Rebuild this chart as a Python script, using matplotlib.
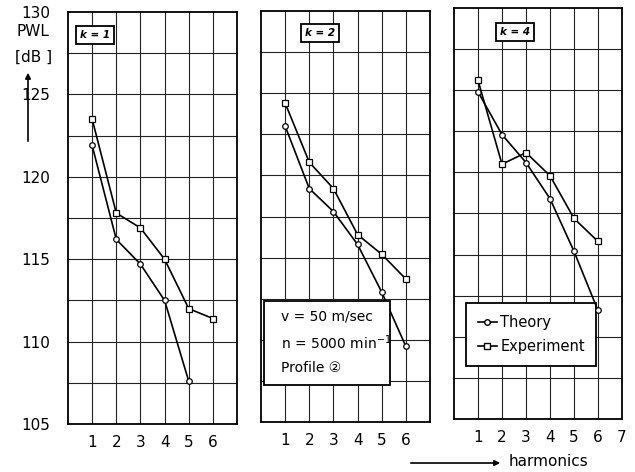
import matplotlib
matplotlib.use("Agg")
import matplotlib.pyplot as plt
from matplotlib.lines import Line2D
from matplotlib.patches import Rectangle, FancyArrowPatch

plt.rcParams['font.family'] = ['DejaVu Sans']

# PWL over harmonics for three k values
harm = [1, 2, 3, 4, 5, 6]

theory_k1 = [121.9, 116.2, 114.7, 112.5, 107.6]
exper_k1 = [123.5, 117.8, 116.9, 115.0, 112.0, 111.4]

theory_k2 = [123.0, 119.2, 117.8, 115.8, 112.9, 109.6]
exper_k2 = [124.4, 120.8, 119.2, 116.4, 115.2, 113.7]

theory_k4 = [124.9, 122.3, 120.6, 118.4, 115.2, 111.6]
exper_k4 = [125.6, 120.5, 121.2, 119.8, 117.2, 115.8]

panels = [
    ("k = 1", theory_k1, exper_k1, [1, 2, 3, 4, 5, 6]),
    ("k = 2", theory_k2, exper_k2, [1, 2, 3, 4, 5, 6]),
    ("k = 4", theory_k4, exper_k4, [1, 2, 3, 4, 5, 6, 7]),
]
info_lines = ["v = 50 m/sec", "n = 5000 min$^{-1}$", "Profile \u2461"]

W, H = 635, 472
fig = plt.figure(figsize=(W / 100, H / 100), dpi=100)

# panel boxes in pixels: left, right, top, bottom
boxes = [(68, 237, 12, 424), (261, 430, 11, 422), (454, 622, 8, 419)]
k_pos = [(95, 35), (320, 33), (515, 32)]

axes = []
for i, (lbl, th, ex, xt) in enumerate(panels):
    l, r, t, b = boxes[i]
    ax = fig.add_axes([l / W, 1 - b / H, (r - l) / W, (b - t) / H])
    ax.set_xlim(0, 7)
    ax.set_ylim(105, 130)
    for x in range(1, 7):
        ax.axvline(x, color='#222222', lw=0.8, zorder=1)
    for k in range(1, 10):
        ax.axhline(105 + 2.5 * k, color='#222222', lw=0.8, zorder=1)
    ax.plot(harm[:len(th)], th, color='black', lw=1.2, marker='o', ms=4,
            mfc='white', mec='black', mew=0.9, zorder=6)
    ax.plot(harm[:len(ex)], ex, color='black', lw=1.2, marker='s', ms=4.5,
            mfc='white', mec='black', mew=0.9, zorder=6)
    for s in ax.spines.values():
        s.set_linewidth(1.3)
    ax.set_xticks(xt)
    ax.tick_params(axis='x', length=0, pad=8, labelsize=11)
    if i == 0:
        ax.set_yticks([105, 110, 115, 120, 125, 130])
        ax.tick_params(axis='y', length=0, pad=13, labelsize=11)
    else:
        ax.set_yticks([])
    kx, ky = k_pos[i]
    fig.text(kx / W, 1 - ky / H, lbl, ha='center', va='center', fontsize=7.5,
             style='italic', fontweight='bold',
             bbox=dict(boxstyle='square,pad=0.35', fc='white', ec='black', lw=1.3))
    axes.append(ax)

# y-axis caption with arrow
fig.text(33 / W, 1 - 32 / H, "PWL", ha='center', va='center', fontsize=11)
fig.text(34 / W, 1 - 57 / H, "[dB ]", ha='center', va='center', fontsize=11)
fig.add_artist(FancyArrowPatch(
    (28 / W, 1 - 144 / H), (28 / W, 1 - 70 / H), transform=fig.transFigure,
    arrowstyle='-|>', mutation_scale=8, color='black', lw=1.2))

# operating point box in the middle panel, drawn over the curves
ax2 = axes[1]
ax2.add_patch(Rectangle((0.018, 0.09), 0.745, 0.205, transform=ax2.transAxes,
                        fc='white', ec='black', lw=1.3, zorder=7))
for j, s in enumerate(info_lines):
    ax2.text(0.118, 0.256 - j * 0.062, s, transform=ax2.transAxes,
             ha='left', va='center', fontsize=10, zorder=8)

# legend in the right panel
handles = [Line2D([], [], color='black', lw=1.2, marker='o', ms=4, mfc='white'),
           Line2D([], [], color='black', lw=1.2, marker='s', ms=4.5, mfc='white')]
leg = axes[2].legend(handles, ["Theory", "Experiment"], loc='upper left',
                     bbox_to_anchor=(0.071, 0.282), borderaxespad=0,
                     fontsize=10.5, handlelength=1.3, handletextpad=0.25,
                     fancybox=False, framealpha=1, borderpad=0.8,
                     labelspacing=0.65)
leg.get_frame().set_edgecolor('black')
leg.get_frame().set_linewidth(1.3)
leg.set_zorder(5)

# x-axis caption with arrow
fig.add_artist(FancyArrowPatch(
    (408 / W, 1 - 463 / H), (503 / W, 1 - 463 / H), transform=fig.transFigure,
    arrowstyle='-|>', mutation_scale=8, color='black', lw=1.2))
fig.text(549 / W, 1 - 462 / H, "harmonics", ha='center', va='center', fontsize=11)

fig.savefig("out.png", dpi=100)
